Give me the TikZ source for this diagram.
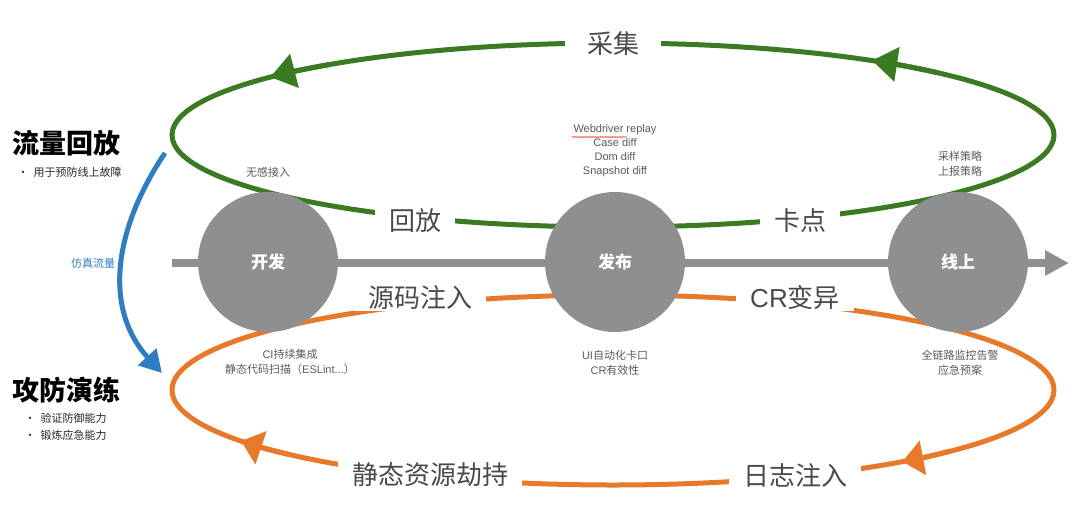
\documentclass[tikz,border=0pt]{standalone}
\usepackage{fontspec}
\setmainfont{Noto Sans CJK SC}
\newfontfamily\lat{Liberation Sans}
\usetikzlibrary{arrows.meta,decorations.pathmorphing}
\definecolor{grn}{HTML}{3A7A22}
\definecolor{org}{HTML}{E8792B}
\definecolor{blu}{HTML}{2F7DC1}
\definecolor{circ}{HTML}{8E8F91}
\definecolor{txt}{HTML}{5A5A5A}
\definecolor{lbl}{HTML}{4A4A4A}
\begin{document}
\begin{tikzpicture}[x=1pt,y=1pt,
  loopline/.style={line width=5pt},
  looplabel/.style={fill=white, text=lbl, font=\fontsize{26}{28}\selectfont, inner xsep=14pt, inner ysep=1pt},
  stage/.style={circle, fill=circ, text=white, font=\bfseries\fontsize{17}{19}\selectfont, minimum size=140pt, inner sep=0pt},
  note/.style={text=txt, font=\fontsize{11}{14.5}\selectfont, align=center},
  ttl/.style={anchor=west, text=black, font=\bfseries\fontsize{27}{30}\selectfont},
  bul/.style={anchor=west, text=black!85, font=\fontsize{11}{17}\selectfont, align=left},
  gtip/.style={-{Triangle[length=25pt,width=34pt]}},
  otip/.style={-{Triangle[length=21pt,width=34pt]}}]
\useasboundingbox (0,0) rectangle (1080,-531);

% green loop
\coordinate (gc) at (613,-135);
\draw[grn, loopline] (gc) ellipse [x radius=441, y radius=92];
\draw[grn, loopline, gtip] (gc) ++(130:441 and 92) arc[start angle=130, end angle=141, x radius=441, y radius=92];
\draw[grn, loopline, gtip] (gc) ++(43:441 and 92) arc[start angle=43, end angle=54, x radius=441, y radius=92];

% orange loop
\coordinate (oc) at (613,-390);
\draw[org, loopline] (oc) ellipse [x radius=441, y radius=95];
\draw[org, loopline, otip] (oc) ++(-40:441 and 95) arc[start angle=-40, end angle=-49, x radius=441, y radius=95];
\draw[org, loopline, otip] (oc) ++(-137:441 and 95) arc[start angle=-137, end angle=-147.5, x radius=441, y radius=95];

% loop labels
\node[looplabel, inner xsep=22pt] (caiji) at (613,-44) {采集};
\node[looplabel] (huifang) at (415,-221) {回放};
\node[looplabel] (kadian) at (800,-221) {卡点};
\node[looplabel] (yuanma) at (420,-298) {源码注入};
\node[looplabel] (crby) at (795,-298) {{\lat CR}变异};
\node[looplabel] (jingtai) at (430,-475) {静态资源劫持};
\node[looplabel] (rizhi) at (795,-475) {日志注入};

% axis
\coordinate (axL) at (172,-263);
\coordinate (axR) at (1069,-263);
\draw[circ, line width=8pt, -{Triangle[length=24pt,width=24pt]}] (axL) -- (axR);

% stages
\node[stage] (kaifa) at (268,-262) {开发};
\node[stage] (fabu) at (615,-262) {发布};
\node[stage] (xianshang) at (958,-262) {线上};

% blue arc
\coordinate (bS) at (165,-153);
\coordinate (bE) at (162,-373);
\draw[blu, line width=5pt, -{Triangle[length=22pt,width=24pt]}] (bS) .. controls (110,-235) and (106,-312) .. (bE);
\node[text=blu, font=\fontsize{11}{13}\selectfont] (fangzhen) at (93,-263) {仿真流量};

% left titles
\node[ttl] (t1) at (9,-143) {流量回放};
\node[bul] (b1) at (14,-172) {•\hspace{5pt}用于预防线上故障};
\node[ttl] (t2) at (9,-390) {攻防演练};
\node[bul] (b2) at (21,-427) {•\hspace{5pt}验证防御能力\\•\hspace{5pt}锻炼应急能力};

% notes
\node[note] (n1) at (268,-172) {无感接入};
\node[note, font=\lat\fontsize{11}{14}\selectfont] (n2) at (615,-151) {Webdriver replay\\Case diff\\Dom diff\\Snapshot diff};
\coordinate (sqL) at (572,-137);
\coordinate (sqR) at (627,-137);
\draw[red!70, line width=0.6pt, decorate, decoration={snake, amplitude=0.6pt, segment length=2.5pt}] (sqL) -- (sqR);
\node[note] (n3) at (960,-164) {采样策略\\上报策略};
\node[note] (n4) at (290,-362) {{\lat CI}持续集成\\静态代码扫描（{\lat ESLint...}）};
\node[note] (n5) at (615,-363) {{\lat UI}自动化卡口\\{\lat CR}有效性};
\node[note] (n6) at (960,-363) {全链路监控告警\\应急预案};
\end{tikzpicture}
\end{document}
